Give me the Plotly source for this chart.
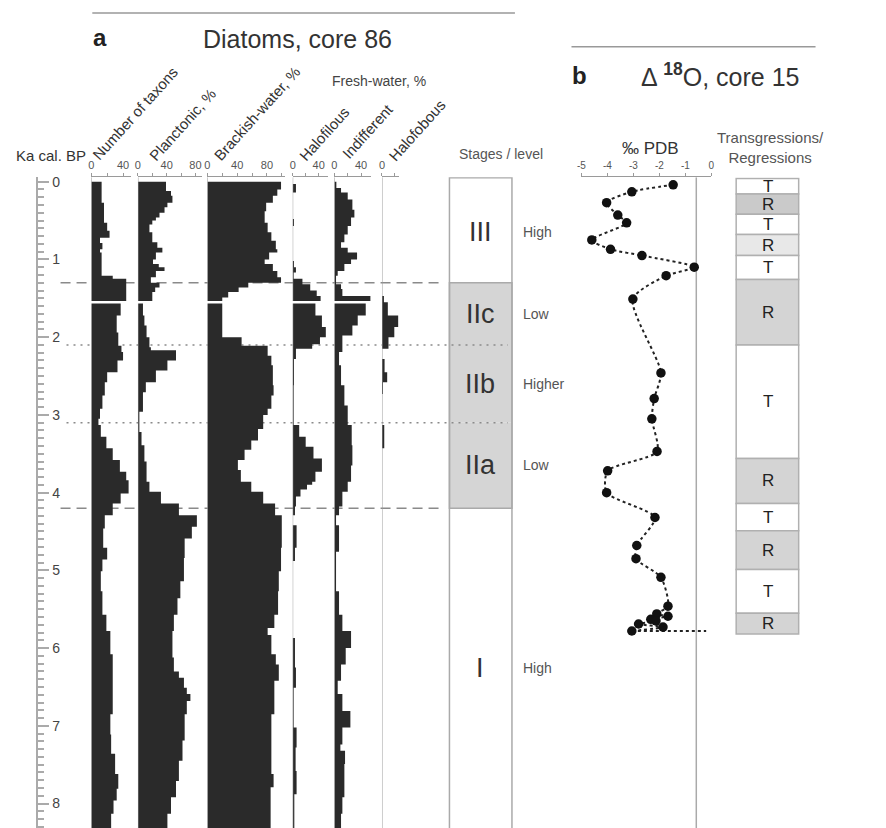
import plotly.graph_objects as go

W, H = 886, 828
FONT = "Arial, Liberation Sans, sans-serif"
DARK = "#2a2a2a"


def px(x):
    return x / W


def py(y):
    return 1 - y / H


# ---------------- data (ka cal. BP for depths) ----------------
core_bottom = 8.32
gap_ka = 1.55

taxa_top = [0.00, 0.27, 0.53, 0.63, 0.72, 0.79, 0.87, 0.91, 1.21, 1.25,
            1.55, 1.72, 1.94, 2.11, 2.19, 2.30, 2.45, 2.58, 2.75, 2.92,
            3.05, 3.13, 3.28, 3.43, 3.58, 3.73, 3.84, 4.01, 4.14, 4.29,
            4.46, 4.71, 4.86, 5.01, 5.27, 5.57, 5.78, 6.08, 6.42, 6.85,
            7.11, 7.36, 7.62, 7.81, 7.96, 8.13]
taxa_val = [13, 16, 20, 23, 11, 14, 11, 13, 27, 44,
            37, 32, 34, 38, 40, 33, 20, 17, 14, 11,
            9, 12, 19, 27, 36, 44, 47, 37, 27, 17,
            15, 20, 14, 12, 14, 19, 24, 27, 27, 24,
            25, 30, 34, 32, 28, 25]

plank_top = [0.00, 0.12, 0.18, 0.27, 0.33, 0.40, 0.46, 0.50, 0.55, 0.65,
             0.78, 0.85, 0.91, 1.00, 1.06, 1.10, 1.15, 1.23, 1.30, 1.36,
             1.42,
             1.55, 1.72, 1.85, 2.00, 2.13, 2.17, 2.30, 2.43, 2.58, 2.71,
             2.96, 3.22, 3.39, 3.60, 3.86, 3.99, 4.14, 4.29, 4.44, 4.59,
             4.84, 5.14, 5.36, 5.57, 5.78, 6.12, 6.30, 6.38, 6.51, 6.59,
             6.68, 6.85, 7.19, 7.45, 7.71, 7.92, 8.13]
plank_val = [39, 46, 48, 41, 37, 30, 25, 20, 16, 20,
             27, 34, 25, 21, 29, 37, 25, 18, 30, 24,
             20,
             7, 9, 12, 16, 18, 53, 41, 25, 11, 7,
             2, 5, 9, 12, 16, 32, 57, 82, 75, 65,
             64, 59, 55, 50, 48, 50, 57, 64, 68, 73,
             68, 65, 62, 57, 53, 46, 41]

brack_top = [0.00, 0.10, 0.18, 0.27, 0.38, 0.53, 0.65, 0.76, 0.87, 0.91,
             1.00, 1.06, 1.15, 1.23, 1.30, 1.36, 1.42, 1.49,
             1.55, 2.00, 2.11, 2.24, 2.36, 2.62, 2.75, 2.92, 3.00, 3.18,
             3.33, 3.45, 3.58, 3.71, 3.86, 3.99, 4.14, 4.29, 4.71, 5.01,
             5.27, 5.57, 5.74, 5.83, 6.08, 6.21, 6.42, 6.85, 7.15, 7.62,
             7.79]
brack_val = [99, 94, 88, 79, 77, 81, 86, 92, 94, 83,
             77, 88, 94, 99, 55, 42, 28, 20,
             20, 46, 81, 86, 88, 89, 86, 81, 75, 68,
             59, 50, 41, 45, 59, 75, 91, 100, 99, 96,
             95, 90, 81, 86, 92, 96, 90, 86, 86, 89,
             85]

halo_top = [0.00, 0.03, 0.14, 0.48, 0.57, 1.02, 1.10, 1.17, 1.25, 1.32,
            1.40, 1.47,
            1.55, 1.72, 1.87, 2.00, 2.09, 2.15, 2.28, 2.62,
            3.13, 3.28, 3.41, 3.56, 3.73, 3.86, 3.90, 3.96, 4.05, 4.18,
            4.29, 4.42, 4.71, 4.88, 5.87, 6.25, 6.51, 7.02, 7.28, 7.58,
            7.88]
halo_val = [0, 5, 0, 2, 0, 2, 5, 1.5, 15, 27,
            37, 43,
            35, 45, 51, 42, 30, 5, 2, 1.5,
            10, 20, 32, 45, 35, 30, 22, 12, 5, 3.5,
            0, 6, 3.5, 0, 3.5, 5, 1.5, 6, 4.5, 6,
            2.5]

indif_top = [0.00, 0.08, 0.14, 0.23, 0.36, 0.46, 0.57, 0.68, 0.78, 0.85,
             0.91, 1.00, 1.06, 1.15, 1.21, 1.32, 1.38, 1.47,
             1.55, 1.72, 1.85, 1.98, 2.19, 2.36, 2.62, 2.88, 3.13, 3.39,
             3.65, 3.86, 3.99, 4.18, 4.29, 4.42, 4.76, 5.27, 5.57, 5.78,
             6.00, 6.21, 6.42, 6.59, 6.81, 7.02, 7.24, 7.32, 7.49, 7.92,
             8.13]
indif_val = [3, 10, 20, 27, 30, 25, 20, 15, 10, 20,
             34, 25, 15, 5, 2.5, 10, 12, 54,
             47, 35, 27, 12, 7, 10, 15, 20, 26, 27,
             25, 20, 12, 7, 2.5, 7, 2.5, 7, 12, 25,
             17, 10, 5, 12, 24, 12, 9, 16, 15, 12,
             10]

hfob_top = [0.00, 1.47, 1.55, 1.72, 1.87, 2.00, 2.15, 2.28, 2.45, 2.58, 2.73, 3.13, 3.43]
hfob_val = [0, 3, 9, 25, 19, 10, 0, 4, 8, 1.5, 0, 3.5, 0]

# delta 18O, core 15
d18_ka = [0.04, 0.13, 0.27, 0.43, 0.53, 0.75, 0.87, 0.95, 1.10, 1.21,
          1.51, 2.46, 2.79, 3.05, 3.47, 3.72, 4.00, 4.32, 4.68, 4.85,
          5.09, 5.46, 5.56, 5.59, 5.63, 5.65, 5.69, 5.73, 5.78]
d18_val = [-1.47, -3.06, -4.03, -3.60, -3.26, -4.60, -3.88, -2.67, -0.66, -1.74,
           -3.02, -1.94, -2.20, -2.29, -2.09, -3.99, -4.03, -2.17, -2.87, -2.90,
           -1.94, -1.67, -2.10, -1.67, -2.33, -2.13, -2.80, -1.86, -3.06]
d18_tail_ka = [5.78, 5.78]
d18_tail_val = [-3.06, -0.20]
d18_ref = -0.58

# stages
stage_names = ["III", "IIc", "IIb", "IIa", "I"]
stage_levels = ["High", "Low", "Higher", "Low", "High"]
stage_top = [-0.05, 1.30, 2.10, 3.10, 4.20]
stage_bot = [1.30, 2.10, 3.10, 4.20, 8.40]

# transgressions / regressions
tr_bounds = [-0.04, 0.16, 0.42, 0.68, 0.95, 1.26, 2.10, 3.56, 4.14, 4.49, 4.99, 5.55, 5.82]
tr_type = ["T", "R", "T", "R", "T", "R", "T", "R", "T", "R", "T", "R"]

# ---------------- styles ----------------
y_range = [8.314, -0.058]
stage_fill = ["#ffffff", "#d5d5d5", "#d5d5d5", "#d5d5d5", "#ffffff"]
tr_fill = ["#ffffff", "#cacaca", "#ffffff", "#e8e8e8", "#ffffff", "#d4d4d4",
           "#ffffff", "#d4d4d4", "#ffffff", "#d4d4d4", "#ffffff", "#d4d4d4"]
boundary_dash = ["10px,6px", "2px,5px", "2px,5px", "10px,6px"]
boundary_x1 = [441, 508, 508, 441]
boundary_x0 = [57, 63, 63, 57]

panels = [
    # tops, vals, domain(px), range, tickvals, minor tick step
    (taxa_top, taxa_val, (88, 128), [0, 50], [0, 40], 20),
    (plank_top, plank_val, (135, 200), [0, 89.7], [0, 40, 80], 20),
    (brack_top, brack_val, (205, 283), [0, 104], [0, 40, 80], 20),
    (halo_top, halo_val, (291, 327), [0, 55], [0, 40], 20),
    (indif_top, indif_val, (333, 370), [0, 55], [0, 40], 20),
    (hfob_top, hfob_val, (381, 398), [0, 26], [0], 20),
]

fig = go.Figure()
layout_axes = {}
shapes = []

for i, (tops, vals, dom, rng, tv, mstep) in enumerate(panels):
    xid = "x" if i == 0 else f"x{i + 1}"
    xname = "xaxis" if i == 0 else f"xaxis{i + 1}"
    xs = list(vals) + [vals[-1]]
    ys = list(tops) + [core_bottom]
    fig.add_trace(go.Scatter(
        x=xs, y=ys, xaxis=xid, yaxis="y", mode="lines",
        line=dict(shape="vh", width=0, color=DARK),
        fill="tozerox", fillcolor=DARK, hoverinfo="skip", showlegend=False))
    layout_axes[xname] = dict(
        domain=[px(dom[0]), px(dom[1])], range=rng, anchor="y", side="top",
        showline=True, linecolor="#9a9a9a", linewidth=1,
        ticks="outside", ticklen=3, tickcolor="#9a9a9a",
        tickvals=tv, ticktext=[str(v) for v in tv],
        minor=dict(tick0=0, dtick=mstep, ticks="outside", ticklen=3, tickcolor="#9a9a9a"),
        tickfont=dict(size=11, color="#555", family=FONT),
        showgrid=False, zeroline=False, fixedrange=True)
    shapes.append(dict(type="line", xref=xid, yref="y", x0=0, x1=0,
                       y0=y_range[1], y1=y_range[0],
                       line=dict(color="#9a9a9a", width=1), layer="above"))

# panel b axis
bx = f"x{len(panels) + 1}"
bxname = f"xaxis{len(panels) + 1}"
layout_axes[bxname] = dict(
    domain=[px(582), px(713)], range=[-5, 0], anchor="y", side="top",
    showline=True, linecolor="#9a9a9a", linewidth=1,
    ticks="outside", ticklen=3, tickcolor="#9a9a9a",
    tickvals=[-5, -4, -3, -2, -1, 0], ticktext=["-5", "-4", "-3", "-2", "-1", "0"],
    tickfont=dict(size=10, color="#555", family=FONT),
    showgrid=False, zeroline=False, fixedrange=True)

fig.add_trace(go.Scatter(
    x=d18_tail_val, y=d18_tail_ka, xaxis=bx, yaxis="y", mode="lines",
    line=dict(color="#222", width=2, dash="dot"), hoverinfo="skip", showlegend=False))
fig.add_trace(go.Scatter(
    x=d18_val, y=d18_ka, xaxis=bx, yaxis="y", mode="lines+markers",
    line=dict(color="#222", width=2, dash="dot", shape="spline", smoothing=0.7),
    marker=dict(color="#111", size=9.5), hoverinfo="skip", showlegend=False))

shapes.append(dict(type="line", xref=bx, yref="y", x0=d18_ref, x1=d18_ref,
                   y0=y_range[1], y1=y_range[0],
                   line=dict(color="#aaaaaa", width=1.5), layer="below"))

# stage column
for top, bot, fc in zip(stage_top, stage_bot, stage_fill):
    shapes.append(dict(type="rect", xref="paper", yref="y", x0=px(449), x1=px(512),
                       y0=top, y1=bot, fillcolor=fc, line=dict(width=0), layer="below"))
shapes.append(dict(type="rect", xref="paper", yref="y", x0=px(449), x1=px(512),
                   y0=stage_top[1], y1=stage_bot[3], fillcolor="rgba(0,0,0,0)",
                   line=dict(color="#aaaaaa", width=1.5), layer="below"))
shapes.append(dict(type="rect", xref="paper", yref="y", x0=px(449), x1=px(512),
                   y0=stage_top[0], y1=stage_bot[-1], fillcolor="rgba(0,0,0,0)",
                   line=dict(color="#aaaaaa", width=1.5), layer="below"))

# boundary lines
for k, b in enumerate(stage_top[1:]):
    shapes.append(dict(type="line", xref="paper", yref="y",
                       x0=px(boundary_x0[k]), x1=px(boundary_x1[k]), y0=b, y1=b,
                       line=dict(color="#8a8a8a", width=1.5, dash=boundary_dash[k]),
                       layer="below"))

# white sample gap across diatom panels
shapes.append(dict(type="line", xref="paper", yref="y", x0=px(86), x1=px(372),
                   y0=gap_ka, y1=gap_ka, line=dict(color="white", width=2.5), layer="above"))

# T/R column
for k, t in enumerate(tr_type):
    shapes.append(dict(type="rect", xref="paper", yref="y", x0=px(738), x1=px(801),
                       y0=tr_bounds[k], y1=tr_bounds[k + 1], fillcolor=tr_fill[k],
                       line=dict(color="#b0b0b0", width=1.5), layer="below"))

# header lines
shapes.append(dict(type="line", xref="paper", yref="paper", x0=px(89), x1=px(515),
                   y0=py(9), y1=py(9), line=dict(color="#999", width=1.5)))
shapes.append(dict(type="line", xref="paper", yref="paper", x0=px(572), x1=px(818),
                   y0=py(43), y1=py(43), line=dict(color="#999", width=1.5)))

ann = []


def txt(x, y, s, size, color="#333", angle=0, xanchor="center", yref="paper", bold=False):
    if bold:
        s = f"<b>{s}</b>"
    ann.append(dict(x=px(x), y=(py(y) if yref == "paper" else y), xref="paper", yref=yref,
                    text=s, showarrow=False, textangle=angle, xanchor=xanchor,
                    yanchor="middle", font=dict(size=size, color=color, family=FONT)))


txt(97, 34, "a", 24, "#222", bold=True)
txt(296, 35, "Diatoms, core 86", 25, "#333")
txt(580, 72, "b", 24, "#222", bold=True)
txt(722, 71, "Δ <sup><b>18</b></sup>O, core 15", 25, "#333")
txt(378, 77, "Fresh-water, %", 14, "#444")
txt(47, 152, "Ka cal. BP", 15, "#333")
txt(132, 110, "Number of taxons", 15, "#333", angle=-48)
txt(180, 121, "Planctonic, %", 15, "#333", angle=-48)
txt(255, 110, "Brackish-water, %", 15, "#333", angle=-48)
txt(323, 130, "Halofilous", 15, "#333", angle=-48)
txt(366, 128, "Indifferent", 15, "#333", angle=-48)
txt(416, 127, "Halofobous", 15, "#333", angle=-48)
txt(501, 151, "Stages / level", 14, "#555")
txt(652, 145, "‰ PDB", 17, "#333")
txt(773, 144, "Transgressions/<br>Regressions", 15, "#555")

for name, lvl, top, bot in zip(stage_names, stage_levels, stage_top, stage_bot):
    mid = (max(top, 0) + min(bot, core_bottom)) / 2
    txt(480, mid, name, 27, "#333", yref="y")
    txt(521, mid, lvl, 14, "#555", xanchor="left", yref="y")

for k, t in enumerate(tr_type):
    mid = (tr_bounds[k] + tr_bounds[k + 1]) / 2
    txt(770, mid, t, 17, "#222", yref="y")

fig.update_layout(
    width=W, height=H, margin=dict(l=0, r=0, t=0, b=0),
    paper_bgcolor="white", plot_bgcolor="rgba(0,0,0,0)",
    showlegend=False,
    yaxis=dict(domain=[0, py(174)], range=y_range, anchor="free", position=px(33),
               side="right", showline=True, linecolor="#aaaaaa", linewidth=1.5,
               ticks="outside", ticklen=12, tickcolor="#aaaaaa", tickwidth=1.5,
               tick0=0, dtick=1,
               minor=dict(dtick=0.1, ticklen=7, tickcolor="#aaaaaa", ticks="outside"),
               tickfont=dict(size=14, color="#444", family=FONT),
               showgrid=False, zeroline=False, fixedrange=True),
    shapes=shapes, annotations=ann,
    **layout_axes,
)

fig.write_html("out.html")
